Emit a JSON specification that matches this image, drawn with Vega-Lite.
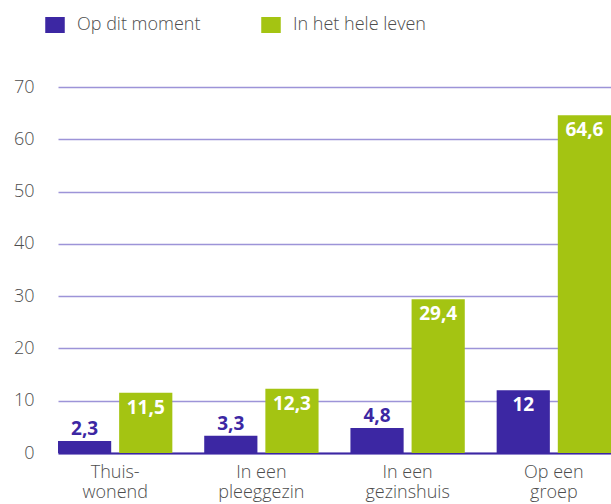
{
  "$schema": "https://vega.github.io/schema/vega-lite/v6.json",
  "width": 553,
  "height": 366,
  "autosize": {"type": "none"},
  "padding": {"left": 58, "top": 87, "right": 0, "bottom": 51},
  "background": "white",
  "config": {
    "locale": {"number": {"decimal": ",", "thousands": ".", "grouping": [3], "currency": ["€", ""]}},
    "view": {"stroke": null},
    "font": "Open Sans"
  },
  "data": {
    "values": [
      {"categorie": "Thuiswonend", "reeks": "Op dit moment", "waarde": 2.3},
      {"categorie": "Thuiswonend", "reeks": "In het hele leven", "waarde": 11.5},
      {"categorie": "In een pleeggezin", "reeks": "Op dit moment", "waarde": 3.3},
      {"categorie": "In een pleeggezin", "reeks": "In het hele leven", "waarde": 12.3},
      {"categorie": "In een gezinshuis", "reeks": "Op dit moment", "waarde": 4.8},
      {"categorie": "In een gezinshuis", "reeks": "In het hele leven", "waarde": 29.4},
      {"categorie": "Op een groep", "reeks": "Op dit moment", "waarde": 12},
      {"categorie": "Op een groep", "reeks": "In het hele leven", "waarde": 64.6}
    ]
  },
  "encoding": {
    "x": {
      "field": "categorie",
      "type": "nominal",
      "sort": ["Thuiswonend", "In een pleeggezin", "In een gezinshuis", "Op een groep"],
      "scale": {"paddingInner": 0.218, "paddingOuter": 0},
      "axis": {
        "title": null,
        "labelAngle": 0,
        "ticks": false,
        "domain": true,
        "domainColor": "#3c27a3",
        "domainWidth": 2,
        "labelFontSize": 18,
        "labelFontWeight": 300,
        "labelColor": "#4d4d4d",
        "labelLineHeight": 20,
        "labelPadding": 10,
        "labelBaseline": "top",
        "labelExpr": "datum.label == 'Thuiswonend' ? ['Thuis-', 'wonend'] : [slice(datum.label, 0, lastindexof(datum.label, ' ')), slice(datum.label, lastindexof(datum.label, ' ') + 1)]"
      }
    },
    "xOffset": {
      "field": "reeks",
      "type": "nominal",
      "sort": ["Op dit moment", "In het hele leven"],
      "scale": {"domain": ["Op dit moment", "In het hele leven"], "paddingInner": 0.13, "paddingOuter": 0}
    },
    "y": {
      "field": "waarde",
      "type": "quantitative",
      "scale": {"domain": [0, 70], "nice": false},
      "axis": {
        "title": null,
        "values": [0, 10, 20, 30, 40, 50, 60, 70],
        "domain": false,
        "ticks": false,
        "labelPadding": 24,
        "labelFontSize": 18,
        "labelFontWeight": 300,
        "labelColor": "#4d4d4d",
        "gridColor": "#9d94d8",
        "gridWidth": 1.5
      }
    }
  },
  "layer": [
    {
      "mark": {"type": "bar"},
      "encoding": {
        "color": {
          "field": "reeks",
          "type": "nominal",
          "scale": {"domain": ["Op dit moment", "In het hele leven"], "range": ["#3c27a3", "#a4c412"]},
          "legend": {
            "title": null,
            "orient": "none",
            "legendX": -12,
            "legendY": -71,
            "direction": "horizontal",
            "symbolType": "M-1.22,-1H1.22V1H-1.22Z",
            "symbolSize": 256,
            "symbolStrokeWidth": 0,
            "labelFontSize": 18,
            "labelFontWeight": 300,
            "labelColor": "#4d4d4d",
            "labelOffset": 13,
            "columnPadding": 60
          }
        }
      }
    },
    {
      "transform": [{"filter": "datum.waarde > 10"}],
      "mark": {"type": "text", "baseline": "top", "dy": 6, "color": "white", "fontWeight": "bold", "fontSize": 19},
      "encoding": {"text": {"field": "waarde", "type": "quantitative", "format": ".1~f"}}
    },
    {
      "transform": [{"filter": "datum.waarde <= 10"}],
      "mark": {"type": "text", "baseline": "alphabetic", "dy": -6, "color": "#3c27a3", "fontWeight": "bold", "fontSize": 19},
      "encoding": {"text": {"field": "waarde", "type": "quantitative", "format": ".1~f"}}
    }
  ]
}
